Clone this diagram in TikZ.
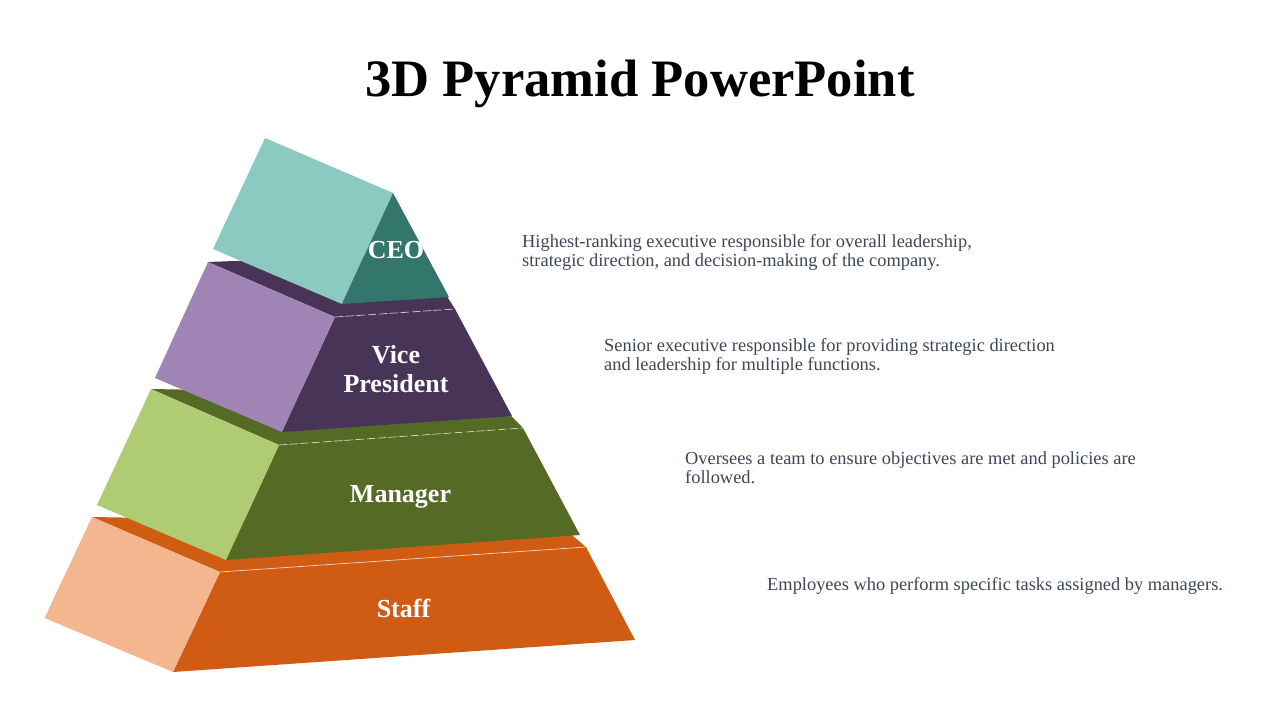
\documentclass[tikz,border=0pt]{standalone}
\usepackage{fontspec}
\setmainfont{Liberation Serif}
\definecolor{ceoL}{HTML}{8BCAC1}
\definecolor{ceoD}{HTML}{33766B}
\definecolor{vpL}{HTML}{A084B5}
\definecolor{vpD}{HTML}{483457}
\definecolor{mgL}{HTML}{AFCC73}
\definecolor{mgD}{HTML}{546A25}
\definecolor{stL}{HTML}{F4B68F}
\definecolor{stD}{HTML}{D05C14}
\definecolor{bodytxt}{HTML}{404657}
\tikzset{
  lbl/.style={text=white, font=\bfseries\fontsize{26}{29}\selectfont, inner sep=0pt, align=center},
  desc/.style={text=bodytxt, font=\fontsize{18.4}{19}\selectfont, inner sep=0pt, align=left, anchor=north west},
  edgeline/.style={white, opacity=0.6, line width=0.8pt},
}
\begin{document}
\begin{tikzpicture}[x=1pt,y=-1pt]
\useasboundingbox (0,0) rectangle (1280,720);
\fill[white] (0,0) rectangle (1280,720);
% title
\node[font=\bfseries\fontsize{52.6}{56}\selectfont, anchor=base, inner sep=0pt] (title) at (640,96) {3D Pyramid PowerPoint};
% Staff level
\fill[stD] (92,517) -- (560,525) -- (586,547) -- (220,572) -- cycle;
\fill[stD] (220,572) -- (586,547) -- (635,640) -- (173,672) -- cycle;
\fill[stL] (92,517) -- (220,572) -- (173,672) -- (44.6,618) -- cycle;
\draw[edgeline] (220,572) -- (586,547);
% Manager level
\fill[mgD] (151,389) -- (490,395) -- (523,428) -- (279,445) -- cycle;
\fill[mgD] (279,445) -- (523,428) -- (580,535) -- (226,560) -- cycle;
\fill[mgL] (151,389) -- (279,445) -- (226,560) -- (97,505) -- cycle;
\draw[edgeline, dash pattern=on 8pt off 3pt] (279,445) -- (523,428);
% VP level
\fill[vpD] (208,262) -- (420,254) -- (455,309) -- (335,317) -- cycle;
\fill[vpD] (335,317) -- (455,309) -- (512,416) -- (282,432) -- cycle;
\fill[vpL] (208,262) -- (335,317) -- (282,432) -- (155,378) -- cycle;
\draw[edgeline, dash pattern=on 8pt off 3pt] (335,317) -- (455,309);
% CEO level
\fill[ceoL] (265,138) -- (393,193) -- (342,304) -- (213,249) -- cycle;
\fill[ceoD] (393,193) -- (449,297) -- (342,304) -- cycle;
% labels
\node[lbl, anchor=base] (ceo) at (396,258) {CEO};
\node[lbl, anchor=north] (vp) at (396,345) {Vice\\President};
\node[lbl, anchor=base] (mgr) at (400.5,502) {Manager};
\node[lbl, anchor=base] (staff) at (403.5,617) {Staff};
% descriptions
\node[desc] (d1) at (522,234) {Highest-ranking executive responsible for overall leadership,\\strategic direction, and decision-making of the company.};
\node[desc] (d2) at (604,338) {Senior executive responsible for providing strategic direction\\and leadership for multiple functions.};
\node[desc] (d3) at (685,452) {Oversees a team to ensure objectives are met and policies are\\followed.};
\node[desc] (d4) at (767,577) {Employees who perform specific tasks assigned by managers.};
\end{tikzpicture}
\end{document}
